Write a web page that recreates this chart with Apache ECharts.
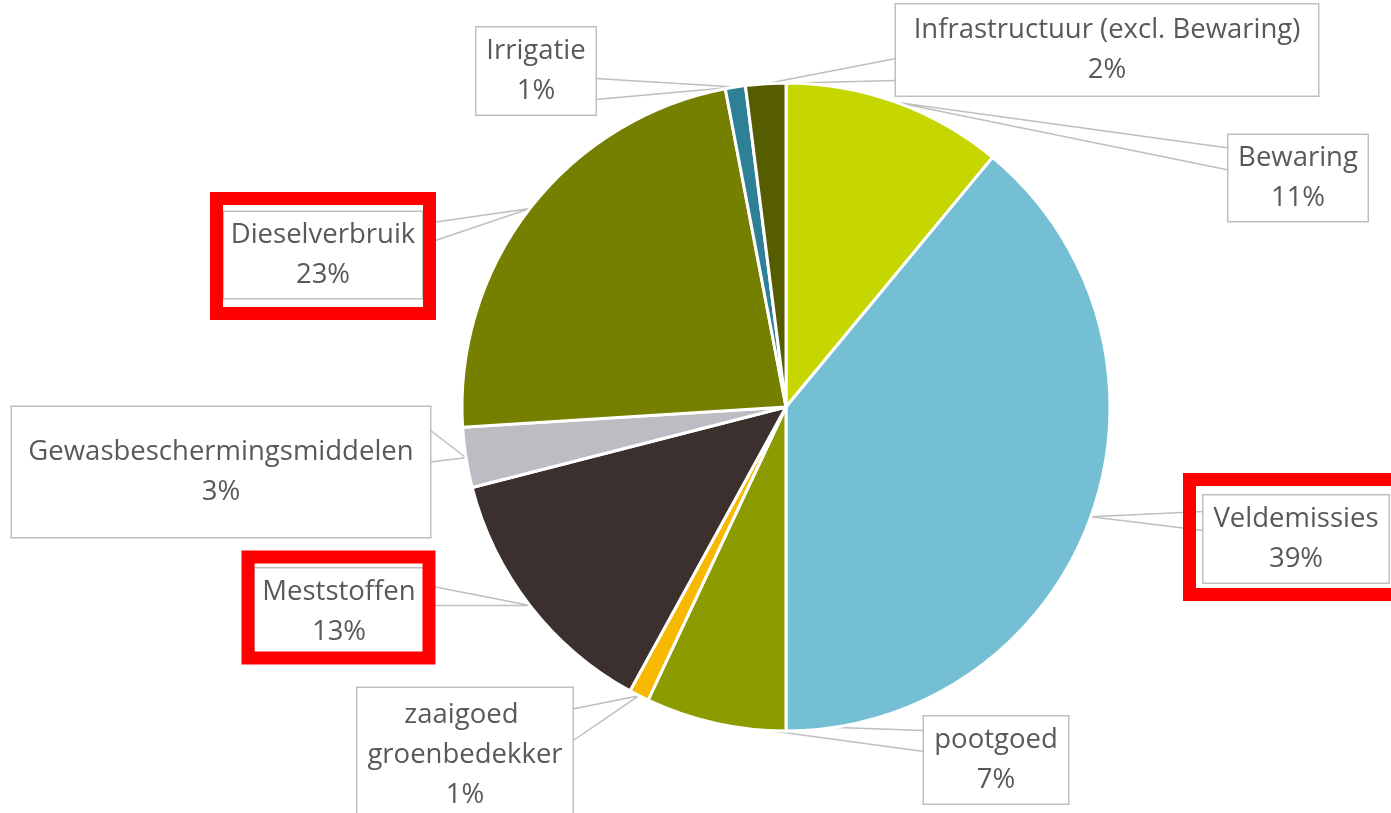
<!DOCTYPE html>
<html>
<head>
<meta charset="utf-8">
<script src="https://cdn.jsdelivr.net/npm/echarts@6/dist/echarts.min.js"></script>
<style>
  html, body { margin: 0; padding: 0; background: #fff; }
  #chart { width: 1391px; height: 813px; }
</style>
</head>
<body>
<div id="chart"></div>
<script>
// slices, clockwise from 12 o'clock
const categories = ['Bewaring', 'Veldemissies', 'pootgoed', 'zaaigoed groenbedekker', 'Meststoffen',
  'Gewasbeschermingsmiddelen', 'Dieselverbruik', 'Irrigatie', 'Infrastructuur (excl. Bewaring)'];
const shares = [11, 39, 7, 1, 13, 3, 23, 1, 2];
const colors = ['#c5d600', '#74bfd4', '#8c9c00', '#f7b900', '#3b302e', '#bdbcc2', '#768000', '#2e8096', '#555d00'];

// callout boxes: centre, size, number of text lines, side the wedge leaves from, wedge offsets from box top
const labelBoxes = [
  { cx: 1298, cy: 178, w: 139, h: 86, lines: 2, side: 'left', wedge: [13, 35] },
  { cx: 1296, cy: 539, w: 185, h: 87, lines: 2, side: 'left', wedge: [16, 35] },
  { cx: 996, cy: 760, w: 144, h: 87, lines: 2, side: 'left', wedge: [14, 35] },
  { cx: 465, cy: 755, w: 215, h: 134, lines: 3, side: 'right', wedge: [21, 53] },
  { cx: 339, cy: 612, w: 168, h: 87, lines: 2, side: 'right', wedge: [16, 37] },
  { cx: 221, cy: 472, w: 418, h: 130, lines: 2, side: 'right', wedge: [23, 55] },
  { cx: 323, cy: 255, w: 198, h: 86, lines: 2, side: 'right', wedge: [12, 33] },
  { cx: 536, cy: 71, w: 119, h: 87, lines: 2, side: 'right', wedge: [51, 72] },
  { cx: 1107, cy: 50, w: 422, h: 91, lines: 2, side: 'left', wedge: [54, 76] }
];

// red highlight frames (stroke centre line)
const redFrames = [
  { x: 216.5, y: 198.5, w: 213, h: 115 },
  { x: 248, y: 557, w: 181, h: 101 },
  { x: 1189.5, y: 479.5, w: 250, h: 115 }
];

const LINE_H = 40;
const TEXT_SHIFT = 3; // push text a little down inside its box

const chart = echarts.init(document.getElementById('chart'));
chart.setOption({
  animation: false,
  backgroundColor: '#fff',
  graphic: redFrames.map(f => ({
    type: 'rect',
    z: 100,
    silent: true,
    shape: { x: f.x, y: f.y, width: f.w, height: f.h },
    style: { fill: 'transparent', stroke: '#ff0000', lineWidth: 13 }
  })),
  series: [{
    type: 'pie',
    center: [786, 407],
    radius: 324,
    startAngle: 90,
    clockwise: true,
    avoidLabelOverlap: false,
    silent: true,
    itemStyle: { borderColor: '#ffffff', borderWidth: 3 },
    label: {
      show: true,
      position: 'outside',
      formatter: '{b}\n{d}%',
      color: '#595959',
      fontFamily: 'Open Sans',
      fontSize: 27.5,
      lineHeight: LINE_H,
      backgroundColor: '#ffffff',
      borderColor: '#bfbfbf',
      borderWidth: 1.5,
      overflow: 'break'
    },
    labelLine: {
      show: true,
      length: 10,
      length2: 10,
      smooth: false,
      lineStyle: { color: '#bfbfbf', width: 1.5 }
    },
    labelLayout: function (p) {
      const b = labelBoxes[p.dataIndex];
      const edgeX = b.side === 'left' ? b.cx - b.w / 2 : b.cx + b.w / 2;
      const top = b.cy - b.h / 2;
      const out = { x: b.cx, y: b.cy, align: 'center', verticalAlign: 'middle' };
      if (p.labelLinePoints && p.labelLinePoints.length) {
        out.labelLinePoints = [[edgeX, top + b.wedge[0]], p.labelLinePoints[0], [edgeX, top + b.wedge[1]]];
      }
      return out;
    },
    data: categories.map((name, i) => {
      const b = labelBoxes[i];
      const padY = (b.h - b.lines * LINE_H) / 2;
      return {
        name: name,
        value: shares[i],
        itemStyle: { color: colors[i] },
        label: { width: b.w - 8, padding: [padY + TEXT_SHIFT, 4, padY - TEXT_SHIFT, 4] }
      };
    })
  }]
});
</script>
</body>
</html>
